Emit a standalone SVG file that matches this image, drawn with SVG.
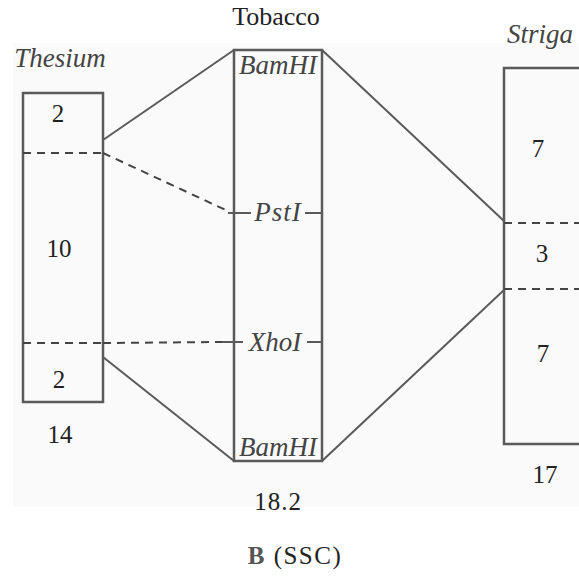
<svg xmlns="http://www.w3.org/2000/svg" width="579" height="579" viewBox="0 0 579 579" font-family="'Liberation Serif','Times New Roman','DejaVu Serif',serif">
<style>
.box{fill:none;stroke:#5a5a5a;stroke-width:2.5}
.ln{fill:none;stroke:#5a5a5a;stroke-width:2}
.dash{fill:none;stroke:#444;stroke-width:2;stroke-dasharray:8 6}
.tick{stroke:#5a5a5a;stroke-width:2}
text{font-family:'Liberation Serif','Times New Roman','DejaVu Serif',serif;fill:#222;text-anchor:middle}
.n{font-size:25px}
.it{font-style:italic;fill:#444}
</style>
<rect width="579" height="579" fill="#fff"/>
<rect x="13" y="43" width="566" height="464" fill="#fafafa"/>
<g id="thesium">
<text class="it" x="60" y="67" font-size="27">Thesium</text>
<rect class="box" x="23" y="93" width="80" height="309"/>
<line class="dash" x1="23" y1="153" x2="103" y2="153"/>
<line class="dash" x1="23" y1="343" x2="103" y2="343"/>
<text class="n" x="58" y="122">2</text>
<text class="n" x="59" y="257">10</text>
<text class="n" x="59" y="388">2</text>
<text class="n" x="60" y="443">14</text>
</g>
<g id="tobacco">
<text x="276" y="25" font-size="26">Tobacco</text>
<rect class="box" x="234" y="50" width="88" height="411"/>
<text class="it" x="278" y="74" font-size="27">BamHI</text>
<text class="it" x="278" y="456" font-size="27">BamHI</text>
<line class="tick" x1="228" y1="213" x2="251" y2="213"/>
<line class="tick" x1="305" y1="213" x2="322" y2="213"/>
<text class="it" x="278" y="221" font-size="27" letter-spacing="1">PstI</text>
<line class="tick" x1="222" y1="342" x2="243" y2="342"/>
<line class="tick" x1="307" y1="342" x2="322" y2="342"/>
<text class="it" x="275" y="351" font-size="27">XhoI</text>
<text class="n" x="278" y="510" letter-spacing="1">18.2</text>
</g>
<g id="striga">
<text class="it" x="540" y="43" font-size="27">Striga</text>
<rect class="box" x="504" y="68" width="90" height="376"/>
<line class="dash" x1="504" y1="223" x2="579" y2="223"/>
<line class="dash" x1="504" y1="289" x2="579" y2="289"/>
<text class="n" x="538" y="157">7</text>
<text class="n" x="542" y="262">3</text>
<text class="n" x="543" y="362">7</text>
<text class="n" x="545" y="483">17</text>
</g>
<g id="connectors">
<line class="ln" x1="103" y1="140" x2="234" y2="50"/>
<line class="ln" x1="103" y1="357" x2="234" y2="461"/>
<line class="ln" x1="322" y1="50" x2="504" y2="221"/>
<line class="ln" x1="322" y1="461" x2="504" y2="290"/>
<line class="dash" x1="103" y1="153" x2="230" y2="212"/>
<line class="dash" x1="103" y1="343" x2="222" y2="342"/>
</g>
<text x="295" y="564" font-size="25" letter-spacing="1.5"><tspan font-weight="bold" fill="#555">B</tspan> (SSC)</text>
</svg>
